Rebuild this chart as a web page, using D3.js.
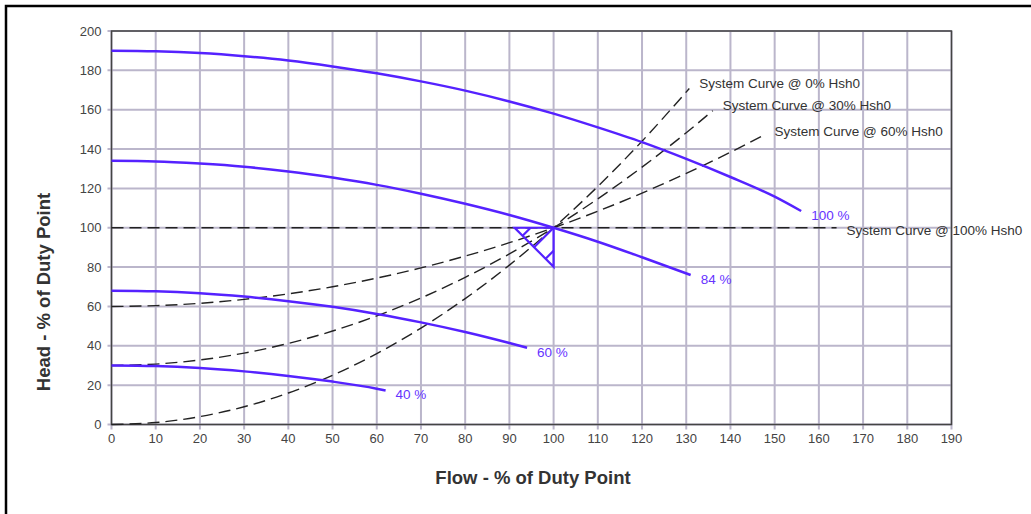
<!DOCTYPE html>
<html>
<head>
<meta charset="utf-8">
<script src="https://cdn.jsdelivr.net/npm/d3@7"></script>
<style>
  body { margin: 0; background: #fff; }
  text { font-family: "Liberation Sans", Arial, sans-serif; }
</style>
</head>
<body>
<div id="chart"></div>
<script>
// flow ticks / head ticks
var xTicks = d3.range(0, 191, 10);
var yTicks = d3.range(0, 201, 20);

// pump curves (flow %, head %)
var pumpNames = ["100 %", "84 %", "60 %", "40 %"];
var pumpFlow = [
  [0, 10, 20, 30, 40, 50, 60, 70, 80, 90, 100, 110, 120, 130, 140, 150, 156],
  [0, 10, 20, 30, 40, 50, 60, 70, 80, 90, 100, 110, 120, 131],
  [0, 10, 20, 30, 40, 50, 60, 70, 80, 90, 94],
  [0, 10, 20, 30, 40, 50, 60, 62]
];
var pumpHead = [
  [190, 189.7, 188.8, 187.2, 185, 182, 178.5, 174.4, 169.7, 164.2, 158, 151, 143.5, 135, 125.8, 115.8, 108.5],
  [134, 133.7, 132.6, 131, 128.6, 125.5, 121.8, 117.3, 112.2, 106.5, 100, 92.9, 85, 76],
  [68, 67.7, 66.7, 65, 62.7, 59.8, 56.2, 51.9, 47, 41.4, 39],
  [30, 29.7, 28.7, 27, 24.7, 21.8, 18.2, 17.3]
];

// system curves
var sysNames = ["System Curve @ 0% Hsh0", "System Curve @ 30% Hsh0", "System Curve @ 60% Hsh0", "System Curve @ 100% Hsh0"];
var sysFlow = [
  [0, 10, 20, 30, 40, 50, 60, 70, 80, 90, 100, 110, 120, 130.7],
  [0, 10, 20, 30, 40, 50, 60, 70, 80, 90, 100, 110, 120, 130, 136],
  [0, 10, 20, 30, 40, 50, 60, 70, 80, 90, 100, 110, 120, 130, 140, 147.7],
  [0, 164]
];
var sysHead = [
  [0, 1, 4, 9, 16, 25, 36, 49, 64, 81, 100, 121, 144, 170.8],
  [30, 30.7, 32.8, 36.3, 41.2, 47.5, 55.2, 64.3, 74.8, 86.7, 100, 114.7, 130.8, 148.3, 159.5],
  [60, 60.4, 61.6, 63.6, 66.4, 70, 74.4, 79.6, 85.6, 92.4, 100, 108.4, 117.6, 127.6, 138.4, 147.3],
  [100, 100]
];

var dutyPoint = [100, 100];

var W = 1031, H = 514;
var margin = {left: 111.5, top: 31, right: 1031 - 951.5, bottom: 514 - 424.5};
var pw = W - margin.left - margin.right, ph = H - margin.top - margin.bottom;

var svg = d3.select("#chart").append("svg")
  .attr("width", W).attr("height", H);

svg.append("rect")
  .attr("x", 6).attr("y", 6).attr("width", 1040).attr("height", 540)
  .attr("fill", "none").attr("stroke", "#000").attr("stroke-width", 2.5);

var x = d3.scaleLinear().domain([0, 190]).range([0, pw]);
var y = d3.scaleLinear().domain([0, 200]).range([ph, 0]);

var g = svg.append("g").attr("transform", "translate(" + margin.left + "," + margin.top + ")");

// grid
g.append("g").selectAll("line").data(xTicks).enter().append("line")
  .attr("x1", function (d) { return x(d); }).attr("x2", function (d) { return x(d); })
  .attr("y1", 0).attr("y2", ph + 5)
  .attr("stroke", "#bbb6cb").attr("stroke-width", 2);
g.append("g").selectAll("line").data(yTicks).enter().append("line")
  .attr("y1", function (d) { return y(d); }).attr("y2", function (d) { return y(d); })
  .attr("x1", -4).attr("x2", pw)
  .attr("stroke", "#bbb6cb").attr("stroke-width", 2);

// axes labels
g.append("g").selectAll("text").data(xTicks).enter().append("text")
  .attr("x", function (d) { return x(d); }).attr("y", ph + 18)
  .attr("text-anchor", "middle").attr("font-size", 13).attr("fill", "#444")
  .text(function (d) { return d; });
g.append("g").selectAll("text").data(yTicks).enter().append("text")
  .attr("x", -10).attr("y", function (d) { return y(d) + 4.5; })
  .attr("text-anchor", "end").attr("font-size", 13).attr("fill", "#444")
  .text(function (d) { return d; });

// plot frame
g.append("rect").attr("width", pw).attr("height", ph)
  .attr("fill", "none").attr("stroke", "#444").attr("stroke-width", 1.5);

var line = d3.line()
  .x(function (d) { return x(d[0]); })
  .y(function (d) { return y(d[1]); })
  .curve(d3.curveMonotoneX);

// system curves
sysFlow.forEach(function (fl, i) {
  var pts = fl.map(function (q, j) { return [q, sysHead[i][j]]; });
  g.append("path").attr("d", line(pts))
    .attr("fill", "none").attr("stroke", "#222").attr("stroke-width", 1.4)
    .attr("stroke-dasharray", "12,6");
  var last = pts[pts.length - 1];
  g.append("text")
    .attr("x", x(last[0]) + 10).attr("y", y(last[1]) + (i == 3 ? 7 : (i == 2 ? 1 : -0.5)))
    .attr("font-size", 13.5).attr("fill", "#333")
    .text(sysNames[i]);
});

// pump curves
pumpFlow.forEach(function (fl, i) {
  var pts = fl.map(function (q, j) { return [q, pumpHead[i][j]]; });
  g.append("path").attr("d", line(pts))
    .attr("fill", "none").attr("stroke", "#5522ff").attr("stroke-width", 2.5);
  var last = pts[pts.length - 1];
  g.append("text")
    .attr("x", x(last[0]) + 10).attr("y", y(last[1]) + 9)
    .attr("font-size", 13.5).attr("fill", "#6633ff")
    .text(pumpNames[i]);
});

// duty point marker
var dx = x(dutyPoint[0]), dy = y(dutyPoint[1]), s = 39;
var mk = g.append("g").attr("fill", "none").attr("stroke", "#5522ff").attr("stroke-width", 2.2);
mk.append("path").attr("d", "M" + (dx - s) + "," + dy + "L" + dx + "," + dy + "L" + dx + "," + (dy + s) + "Z");
mk.append("path").attr("d",
  "M" + (dx - s + 16) + "," + dy + "l-8,8" +
  "M" + dx + "," + dy + "l-19.5,19.5" +
  "M" + dx + "," + (dy + s - 16) + "l-8,8");

// axis titles
svg.append("text")
  .attr("x", 533).attr("y", 484)
  .attr("text-anchor", "middle").attr("font-size", 18.5).attr("font-weight", "bold").attr("fill", "#333")
  .text("Flow - % of Duty Point");
svg.append("text")
  .attr("transform", "translate(50,292) rotate(-90)")
  .attr("text-anchor", "middle").attr("font-size", 18.5).attr("font-weight", "bold").attr("fill", "#333")
  .text("Head - % of Duty Point");
</script>
</body>
</html>
